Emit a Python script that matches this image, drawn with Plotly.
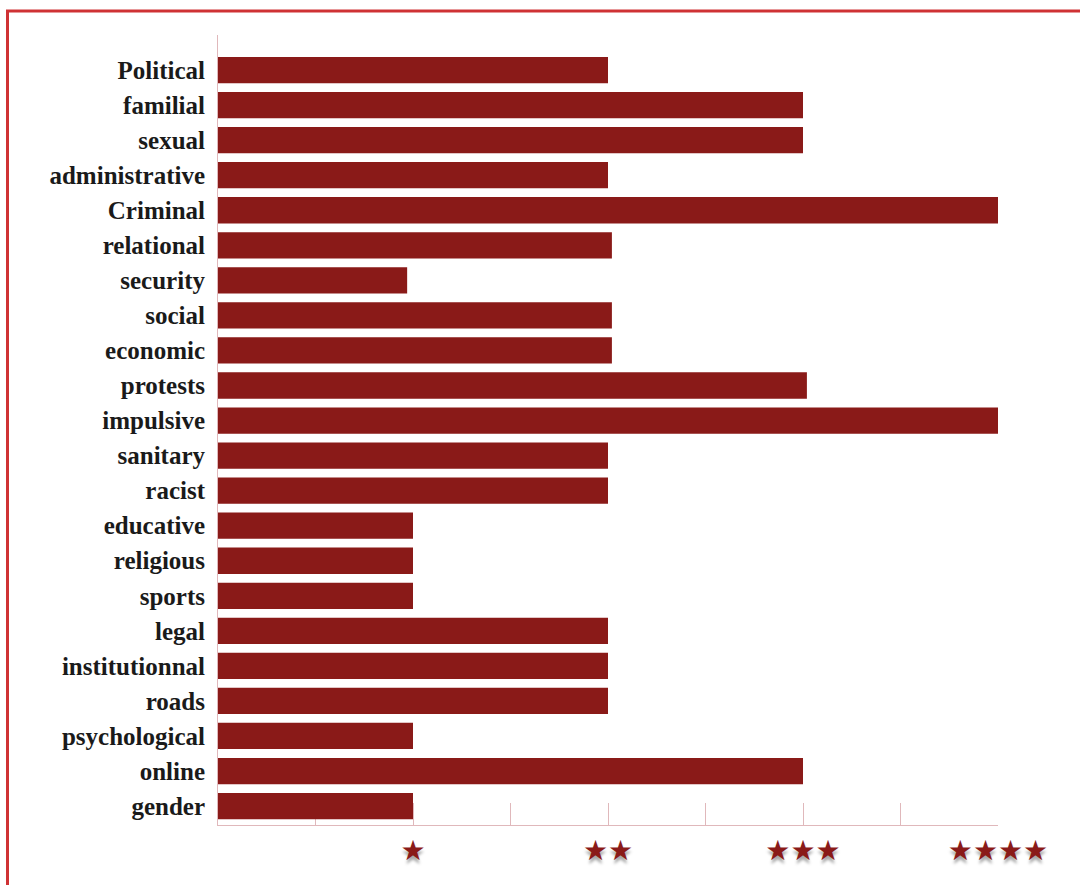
import plotly.graph_objects as go

# Violence categories, listed top to bottom, with their star rating (0-4)
categories = [
    "Political", "familial", "sexual", "administrative", "Criminal",
    "relational", "security", "social", "economic", "protests",
    "impulsive", "sanitary", "racist", "educative", "religious",
    "sports", "legal", "institutionnal", "roads", "psychological",
    "online", "gender",
]
ratings = [
    2, 3, 3, 2, 4.01,
    2.02, 0.97, 2.02, 2.02, 3.02,
    4, 2, 2, 1, 1,
    1, 2, 2, 2, 1,
    3, 1,
]
star_values = [1, 2, 3, 4]
star_labels = ["★", "★★", "★★★", "★★★★"]

BAR = "#8a1a18"
AXIS = "#e0b8bb"
FRAME = "#cf3234"

fig = go.Figure(
    go.Bar(
        x=ratings,
        y=categories,
        orientation="h",
        marker=dict(color=BAR, line=dict(width=0)),
        hoverinfo="skip",
    )
)

L, R, T, B = 218, 82, 35, 60
W, H = 1080, 885
pw, ph = W - L - R, H - T - B

fig.update_layout(
    width=W,
    height=H,
    margin=dict(l=L, r=R, t=T, b=B, pad=0),
    paper_bgcolor="white",
    plot_bgcolor="white",
    bargap=0.25,
    showlegend=False,
    xaxis=dict(
        range=[0, 4],
        tickvals=star_values,
        ticktext=star_labels,
        tickfont=dict(family="DejaVu Sans", size=28, color=BAR,
                      shadow="0px 4px 3px rgba(0,0,0,0.35)"),
        ticks="inside",
        ticklen=22,
        tickwidth=1,
        tickcolor=AXIS,
        minor=dict(tickvals=[0.5, 1.5, 2.5, 3.5], ticks="inside",
                   ticklen=22, tickwidth=1, tickcolor=AXIS),
        showgrid=False,
        zeroline=False,
        showline=True,
        linecolor=AXIS,
        linewidth=1,
        layer="below traces",
        fixedrange=True,
        ticklabelstandoff=0,
    ),
    yaxis=dict(
        categoryorder="array",
        categoryarray=categories,
        range=[21.54, -1.0],
        tickfont=dict(family="Liberation Serif", size=25, color="#1a1a1a",
                      weight="bold"),
        ticks="",
        showgrid=False,
        zeroline=False,
        showline=True,
        linecolor=AXIS,
        linewidth=1,
        ticklabelstandoff=7,
        fixedrange=True,
    ),
    shapes=[
        # page frame: top and left rules
        dict(type="line", xref="paper", yref="paper",
             x0=(6 - L) / pw, x1=(W + 5 - L) / pw,
             y0=(H - B - 11) / ph, y1=(H - B - 11) / ph,
             line=dict(color=FRAME, width=3)),
        dict(type="line", xref="paper", yref="paper",
             x0=(7.5 - L) / pw, x1=(7.5 - L) / pw,
             y0=(H - B - 10) / ph, y1=-(B + 5) / ph,
             line=dict(color=FRAME, width=3)),
    ],
)

fig.write_html("out.html")
